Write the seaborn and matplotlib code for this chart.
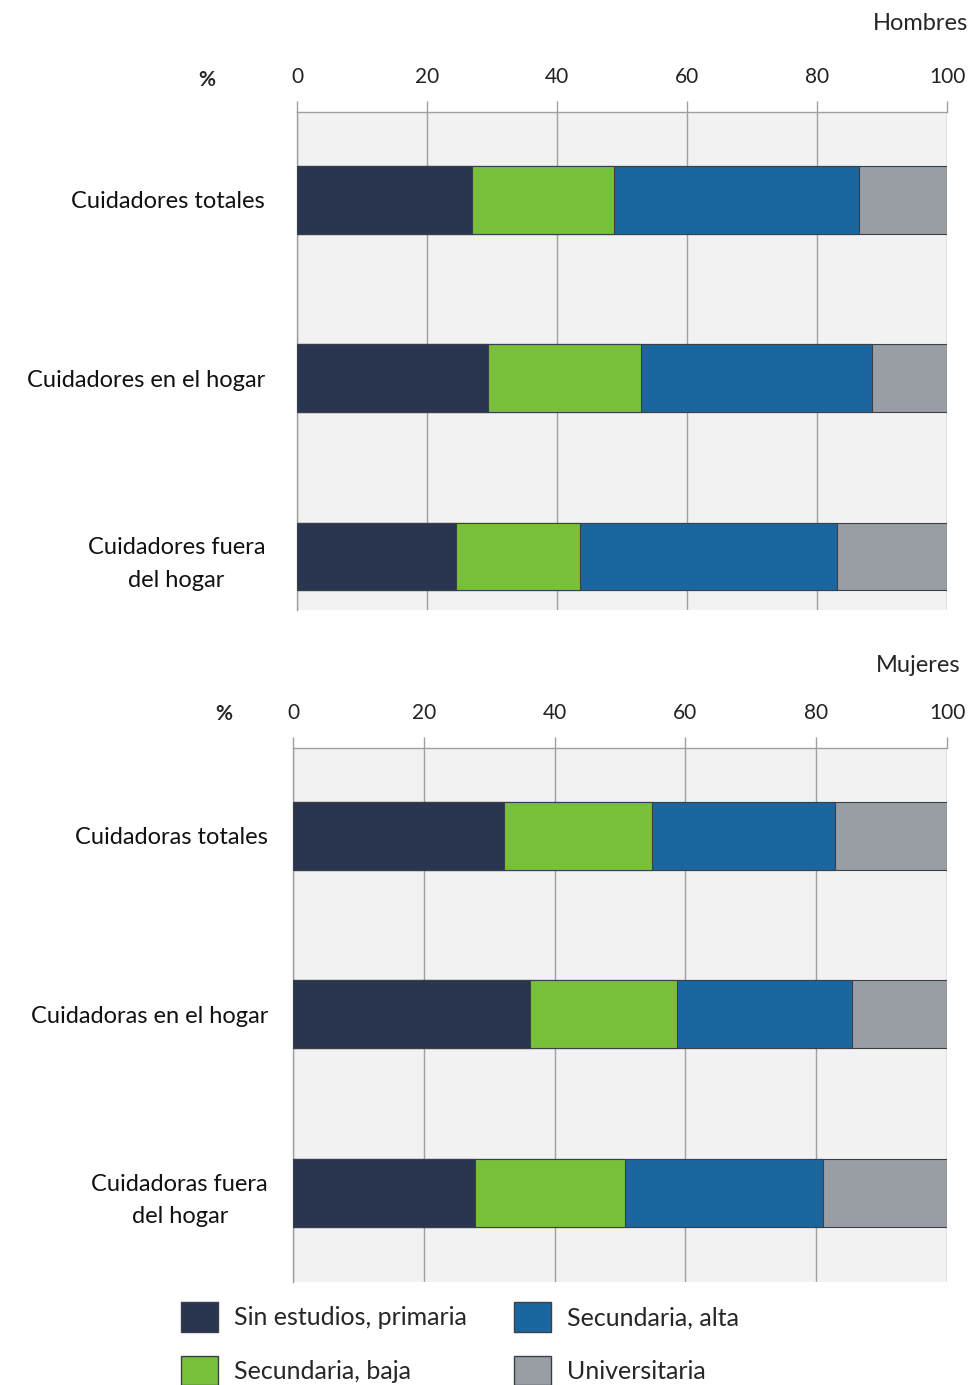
import pandas as pd
import numpy as np
import matplotlib.pyplot as plt
import seaborn as sns
from matplotlib.patches import Patch

# datos (porcentajes)
niveles = ['Sin estudios, primaria', 'Secundaria, baja', 'Secundaria, alta', 'Universitaria']
colores = ['#2a3650', '#78c03a', '#1b669e', '#999ea5']

cat_hombres = ['Cuidadores totales', 'Cuidadores en el hogar', 'Cuidadores fuera\ndel hogar']
sin_est_h = [26.9, 29.4, 24.5]
sec_baja_h = [21.8, 23.5, 19.1]
sec_alta_h = [37.8, 35.6, 39.5]
univ_h = [13.5, 11.5, 16.9]

cat_mujeres = ['Cuidadoras totales', 'Cuidadoras en el hogar', 'Cuidadoras fuera\ndel hogar']
sin_est_m = [32.3, 36.3, 27.9]
sec_baja_m = [22.6, 22.4, 22.8]
sec_alta_m = [28.0, 26.8, 30.3]
univ_m = [17.1, 14.5, 19.0]

ticks = [0, 20, 40, 60, 80, 100]

sns.set_theme(style='white')
plt.rcParams['font.family'] = ['Lato', 'DejaVu Sans']

fig = plt.figure(figsize=(9.69, 13.85), dpi=100)
ax1 = fig.add_axes([0.3065, 0.5596, 0.6708, 0.3596])
ax2 = fig.add_axes([0.3024, 0.0744, 0.6749, 0.3856])


def apilado(ax, cats, series, ylim):
    df = pd.DataFrame(dict(zip(niveles, series)), index=cats)
    acum = df.cumsum(axis=1)
    # dibujar del total hacia atras para simular barras apiladas
    for nivel, color in reversed(list(zip(niveles, colores))):
        sns.barplot(x=acum[nivel].values, y=list(cats), orient='h', color=color,
                    saturation=1, width=0.38, edgecolor='#3a3f48', linewidth=0.8,
                    ax=ax, zorder=3)
    ax.set_facecolor('#f2f2f2')
    ax.set_xlim(0, 100)
    ax.set_ylim(ylim)
    ax.set_xticks(ticks)
    ax.xaxis.tick_top()
    ax.tick_params(axis='x', top=True, bottom=False, length=8, width=1, color='#a0a0a0',
                   pad=10, labelsize=15, labelcolor='#222222')
    ax.tick_params(axis='y', left=False, pad=17, labelsize=17, labelcolor='#111111')
    for lab in ax.get_yticklabels():
        lab.set_multialignment('center')
        lab.set_linespacing(1.65)
    ax.grid(axis='x', color='#a0a0a0', linewidth=1, zorder=0)
    ax.set_axisbelow(True)
    for s in ['bottom', 'right']:
        ax.spines[s].set_visible(False)
    for s in ['top', 'left']:
        ax.spines[s].set_color('#a0a0a0')
        ax.spines[s].set_linewidth(1)
    ax.set_xlabel('')
    ax.set_ylabel('')


apilado(ax1, cat_hombres, [sin_est_h, sec_baja_h, sec_alta_h, univ_h], (2.30, -0.494))
apilado(ax2, cat_mujeres, [sin_est_m, sec_baja_m, sec_alta_m, univ_m], (2.50, -0.493))
ax2.tick_params(axis='y', pad=12)

fig.text(207 / 969, 1 - 80 / 1385, '%', fontsize=15, fontweight='bold', ha='center', va='center')
fig.text(224 / 969, 1 - 714 / 1385, '%', fontsize=15, fontweight='bold', ha='center', va='center')
fig.text(968 / 969, 1 - 23 / 1385, 'Hombres', fontsize=17, ha='right', va='center')
fig.text(960 / 969, 1 - 666 / 1385, 'Mujeres', fontsize=17, ha='right', va='center')

handles = [Patch(facecolor=c, edgecolor='#3a3f48', label=n) for n, c in zip(niveles, colores)]
fig.legend(handles=handles, ncol=2, loc='upper left', bbox_to_anchor=(0.164, 0.076),
           frameon=False, fontsize=18, handlelength=1.45, handleheight=1.45,
           columnspacing=1.9, handletextpad=0.65, labelspacing=0.95)

plt.savefig('out.png', dpi=100)
